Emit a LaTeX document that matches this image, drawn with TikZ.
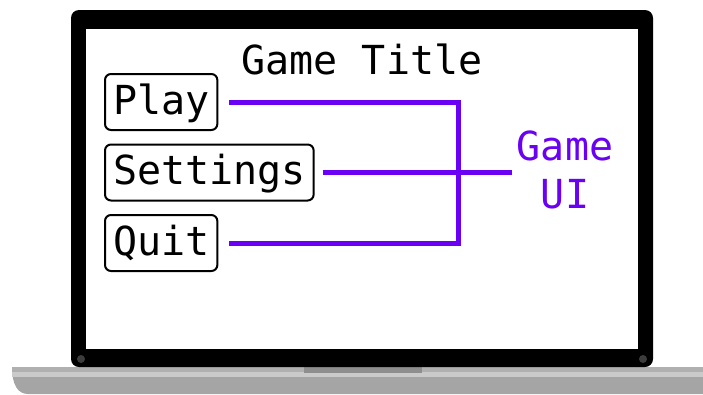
\documentclass[tikz,border=0pt]{standalone}
\usepackage{fontspec}
\setmonofont{DejaVu Sans Mono}
\usetikzlibrary{positioning, calc}

\definecolor{uiviolet}{HTML}{6A00F4}
\definecolor{basegray}{HTML}{A5A5A5}
\definecolor{baselight}{HTML}{CACACA}
\definecolor{basetop}{HTML}{B0B0B0}
\definecolor{notchgray}{HTML}{8E8E8E}
\definecolor{dotgray}{HTML}{3C3C3C}

\begin{document}
\begin{tikzpicture}[
        x=1pt, y=-1pt,
        bigfont/.style={font=\ttfamily\fontsize{40}{48}\selectfont},
        btn/.style={draw, line width=2pt, rounded corners=6pt, bigfont, minimum height=56pt, inner xsep=8pt, text height=30pt, text depth=6pt, anchor=west},
        wire/.style={draw=uiviolet, line width=5pt},
        bezel/.style={fill=black, rounded corners=8pt},
        screen/.style={fill=white}
    ]
    \useasboundingbox (0,0) rectangle (703,394);

    \fill[basegray] (12,367) -- (703,367) -- (703,394) -- (28,394) .. controls (18,394) and (12,385) .. (12,367) -- cycle;
    \fill[basetop] (12,367) rectangle (703,372);
    \fill[baselight] (12.3,372) rectangle (703,377);
    \fill[notchgray] (304,366) rectangle (422,373);

    \path[bezel] (71,10) rectangle (653,367);
    \path[screen] (86,29) rectangle (638,349);
    \fill[dotgray] (81,359) circle (4pt);
    \fill[dotgray] (643,359) circle (4pt);

    \node[bigfont, anchor=base] (Title) at (362,74) {Game Title};

    \node[btn] (Play) at (104,102) {Play};
    \node[btn] (Settings) at (104,172.5) {Settings};
    \node[btn] (Quit) at (104,243) {Quit};

    \node[bigfont, text=uiviolet, align=center, inner sep=5pt] (UI) at (565,170) {Game\\UI};

    \coordinate (bus) at (458,172.5);

    \draw[wire] ([xshift=11pt]Play.east) -| (bus) |- ([xshift=11pt]Quit.east);
    \draw[wire] ([xshift=8pt]Settings.east) -- (UI.west |- Settings.east);

\end{tikzpicture}
\end{document}
